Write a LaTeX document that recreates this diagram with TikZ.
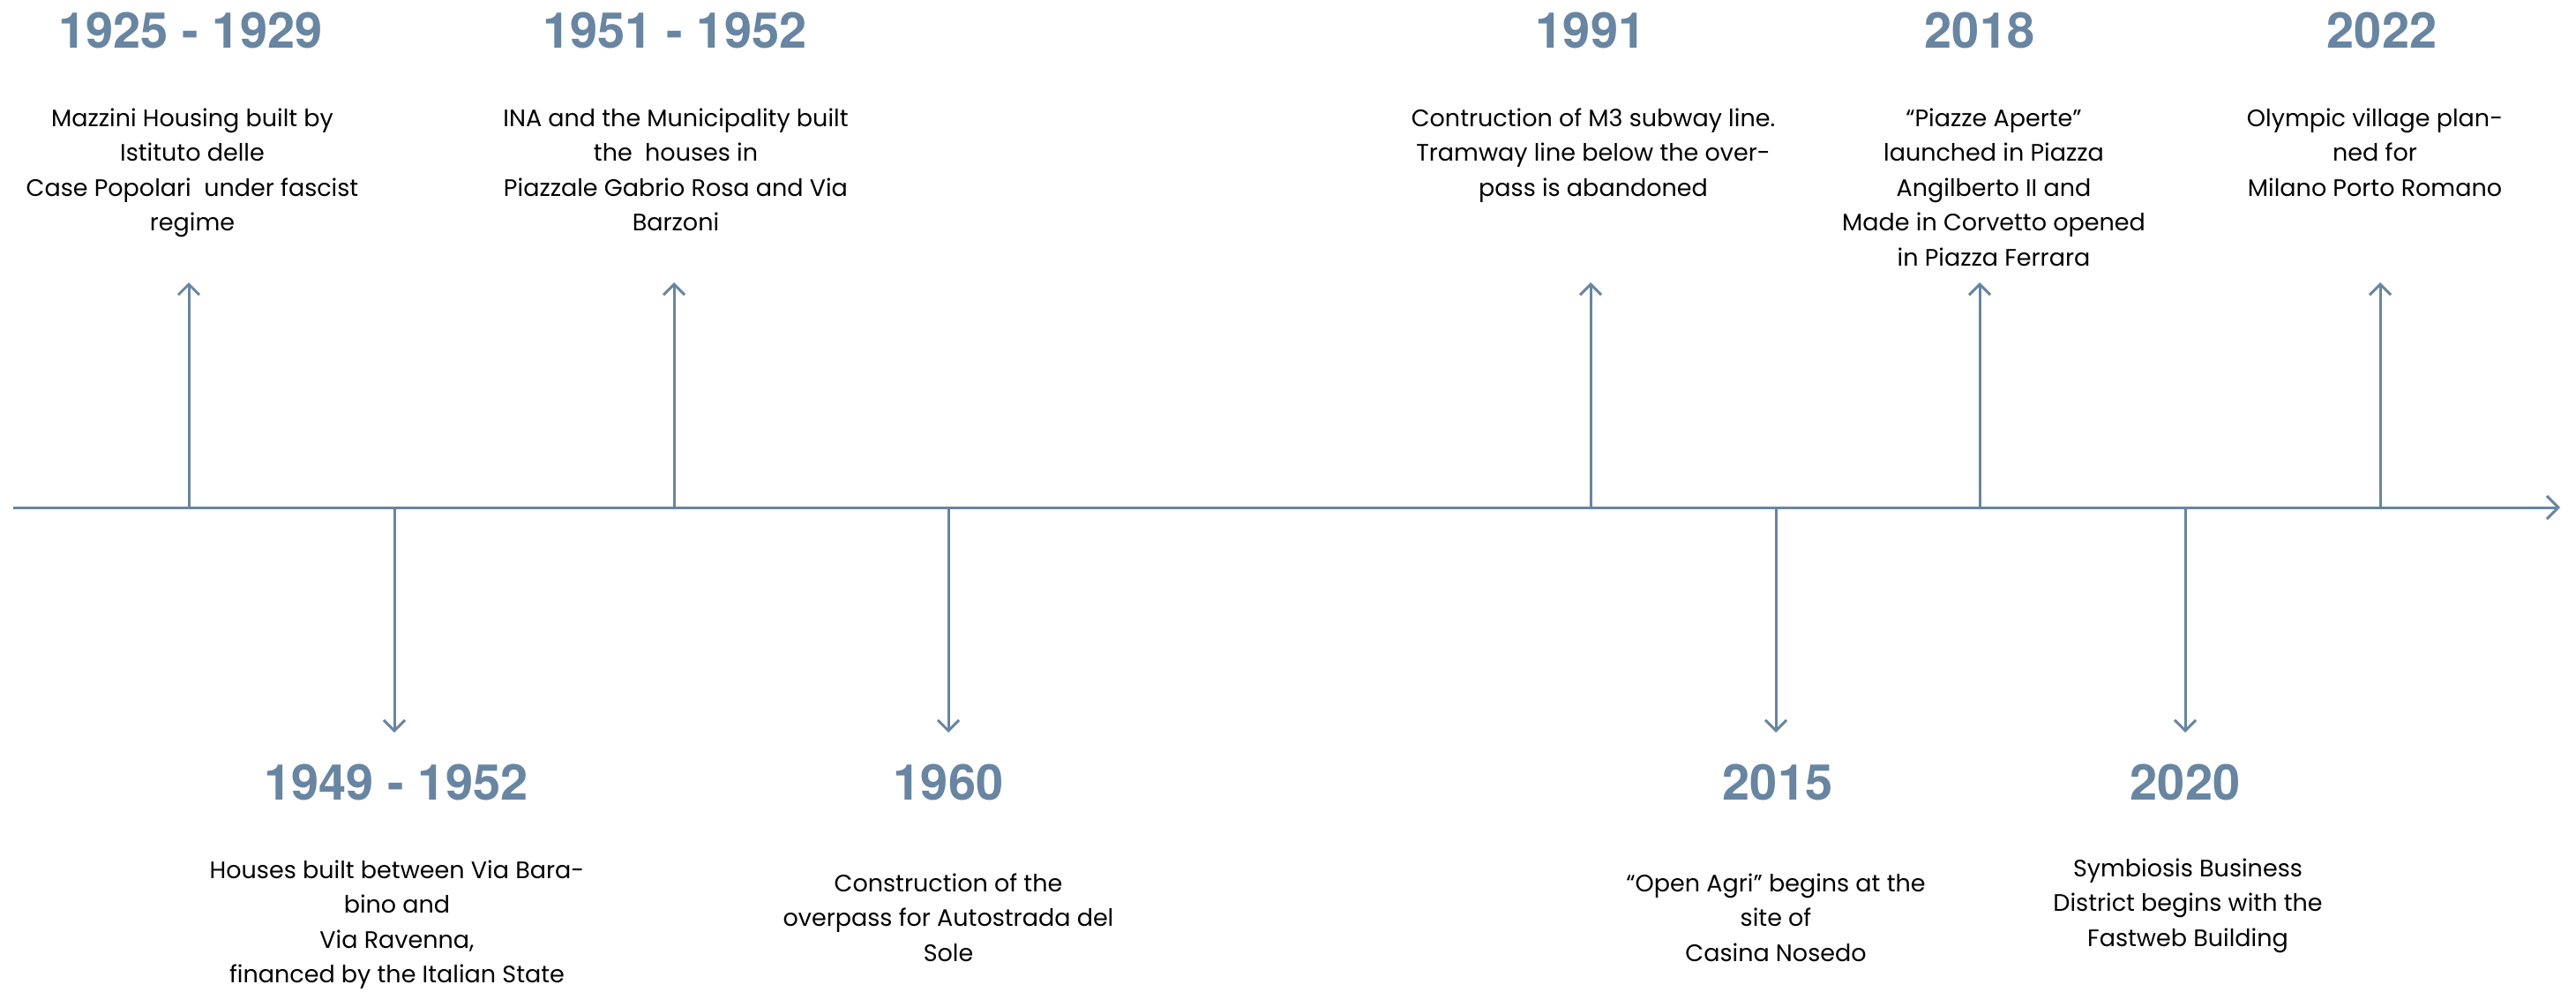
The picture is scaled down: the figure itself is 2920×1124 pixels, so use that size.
\documentclass[tikz,border=0pt]{standalone}
\usepackage{fontspec}
\setmainfont{Poppins}
\newfontfamily\yearfont{TeX Gyre Heros}
\usetikzlibrary{arrows.meta}
\definecolor{slate}{RGB}{104,133,161}
\tikzset{
  axisline/.style={draw=slate, line width=3pt, -{Straight Barb[length=13pt,width=26pt,line width=3pt]}},
  evarrow/.style={draw=slate, line width=3pt, -{Straight Barb[length=12pt,width=24pt,line width=3pt]}},
  year/.style={font=\yearfont\bfseries\fontsize{56}{60}\selectfont, text=slate, anchor=base, inner sep=0pt},
  desc/.style={font=\fontsize{27}{39.5}\selectfont, align=center, anchor=north, inner sep=0pt, text=black},
}
\begin{document}
\begin{tikzpicture}[x=1pt,y=-1pt]
\useasboundingbox (0,0) rectangle (2920,1124);
% axis
\coordinate (axs) at (15,575);
\coordinate (axe) at (2902,575);
\draw[axisline] (axs) -- (axe);
% ticks on axis and arrow ends
\foreach \n/\x/\e in {a/214/320, b/447/830, c/764/320, d/1075/830, e/1803/320, f/2013/830, g/2244/320, h/2477/830, i/2698/320}{
  \coordinate (t\n) at (\x,575);
  \coordinate (e\n) at (\x,\e);
  \draw[evarrow] (t\n) -- (e\n);
}
% years top
\node[year] (ya) at (216,55) {1925 - 1929};
\node[year] (yc) at (765,55) {1951 - 1952};
\node[year] (ye) at (1803,55) {1991};
\node[year] (yg) at (2244,55) {2018};
\node[year] (yi) at (2700,55) {2022};
% years bottom
\node[year] (yb) at (449,906) {1949 - 1952};
\node[year] (yd) at (1075,906) {1960};
\node[year] (yf) at (2015,906) {2015};
\node[year] (yh) at (2477,906) {2020};
% descriptions top
\node[desc] (da) at (218,115.35) {\strut Mazzini Housing built by\\\strut Istituto delle\\\strut Case Popolari\ \ under fascist\\\strut regime};
\node[desc] (dc) at (766,115.35) {\strut INA and the Municipality built\\\strut the\ \ houses in\\\strut Piazzale Gabrio Rosa and Via\\\strut Barzoni};
\node[desc] (de) at (1806,115.35) {\strut Contruction of M3 subway line.\\\strut Tramway line below the over-\\\strut pass is abandoned};
\node[desc] (dg) at (2260,115.35) {\strut “Piazze Aperte”\\\strut launched in Piazza\\\strut Angilberto II and\\\strut Made in Corvetto opened\\\strut in Piazza Ferrara};
\node[desc] (di) at (2692,115.35) {\strut Olympic village plan-\\\strut ned for\\\strut Milano Porto Romano};
% descriptions bottom
\node[desc] (db) at (450,967.35) {\strut Houses built between Via Bara-\\\strut bino and\\\strut Via Ravenna,\\\strut financed by the Italian State};
\node[desc] (dd) at (1075,982.35) {\strut Construction of the\\\strut overpass for Autostrada del\\\strut Sole};
\node[desc] (df) at (2013,982.35) {\strut “Open Agri” begins at the\\\strut site of\\\strut Casina Nosedo};
\node[desc] (dh) at (2480,965.35) {\strut Symbiosis Business\\\strut District begins with the\\\strut Fastweb Building};
\end{tikzpicture}
\end{document}
